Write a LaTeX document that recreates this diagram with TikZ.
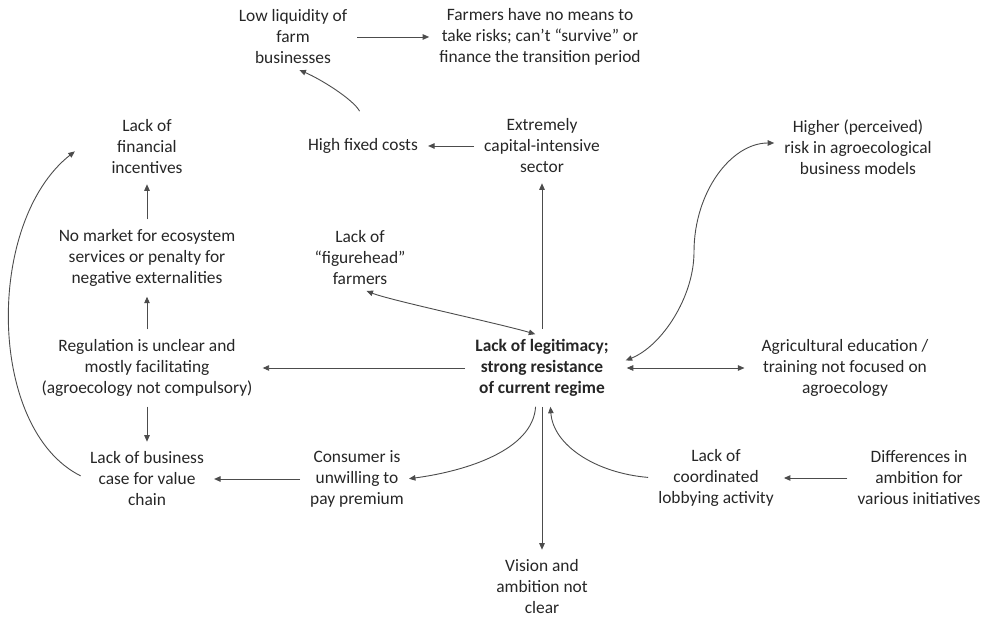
\documentclass[tikz,border=0pt]{standalone}
\usepackage{fontspec}
\setmainfont{Carlito}
\usetikzlibrary{arrows.meta}
\begin{document}
\begin{tikzpicture}[x=1pt, y=-1pt,
  every node/.style={align=center, inner sep=3pt, text=black!85, font=\fontsize{17.4}{21}\selectfont},
  link/.style={draw=black!70, line width=0.9pt, shorten >=7pt, shorten <=7pt, -{Triangle[length=6.5pt,width=5.5pt]}},
  both/.style={link, {Triangle[length=6.5pt,width=5.5pt]}-{Triangle[length=6.5pt,width=5.5pt]}}]
  \useasboundingbox (0,0) rectangle (983,617);
  % top row
  \node (liquidity) at (293,37) {Low liquidity of\\farm\\businesses};
  \node (farmers) at (540,37) {Farmers have no means to\\take risks; can’t “survive” or\\finance the transition period};
  \node (fixed) at (363,146) {High fixed costs};
  \node (capital) at (542,146) {Extremely\\capital-intensive\\sector};
  \node (incent) at (147,147) {Lack of\\financial\\incentives};
  \node (risk) at (858,147) {Higher (perceived)\\risk in agroecological\\business models};
  \node (market) at (147,258) {No market for ecosystem\\services or penalty for\\negative externalities};
  \node (figure) at (360,258) {Lack of\\“figurehead”\\farmers};
  % middle row
  \node[font=\fontsize{17.4}{21}\selectfont\bfseries] (legit) at (542,368) {Lack of legitimacy;\\strong resistance\\of current regime};
  \node (educ) at (845,368) {Agricultural education /\\training not focused on\\agroecology};
  \node (regul) at (147,368) {Regulation is unclear and\\mostly facilitating\\(agroecology not compulsory)};
  % bottom row
  \node (business) at (147,479) {Lack of business\\case for value\\chain};
  \node (consumer) at (357,479) {Consumer is\\unwilling to\\pay premium};
  \node (lobby) at (716,478) {Lack of\\coordinated\\lobbying activity};
  \node (diff) at (919,478) {Differences in\\ambition for\\various initiatives};
  \node (vision) at (542,587) {Vision and\\ambition not\\clear};
  % straight arrows
  \foreach \a/\b in {liquidity/farmers, capital/fixed, market/incent, regul/market, regul/business,
    consumer/business, diff/lobby, legit/capital, legit/regul, legit/vision}
    \draw[link] (\a) -- (\b);
  \draw[both, shorten <=15pt, shorten >=14pt] (legit) -- (educ);
  % curved arrows
  \draw[link] ([yshift=18pt]fixed.north) .. controls +(-10,-18) and +(28,12) .. (liquidity.south);
  \draw[both] (figure.south) .. controls +(30,12) and +(-40,-12) .. (legit.north);
  \draw[both, shorten <=15pt] ([yshift=2pt]legit.east) .. controls +(50,-20) and +(0,45) .. (694,252)
    .. controls +(0,-60) and +(-50,0) .. ([yshift=4pt]risk.west);
  \draw[link, shorten >=2pt] ([xshift=-6pt]legit.south) .. controls +(-3,50) and +(60,-8) .. (consumer.east);
  \draw[link] (lobby.west) .. controls +(-60,-5) and +(3,45) .. ([xshift=8pt]legit.south);
  \draw[link] (business.west) .. controls +(-100,-50) and +(-95,75) .. ([xshift=-28pt]incent.west);
\end{tikzpicture}
\end{document}
